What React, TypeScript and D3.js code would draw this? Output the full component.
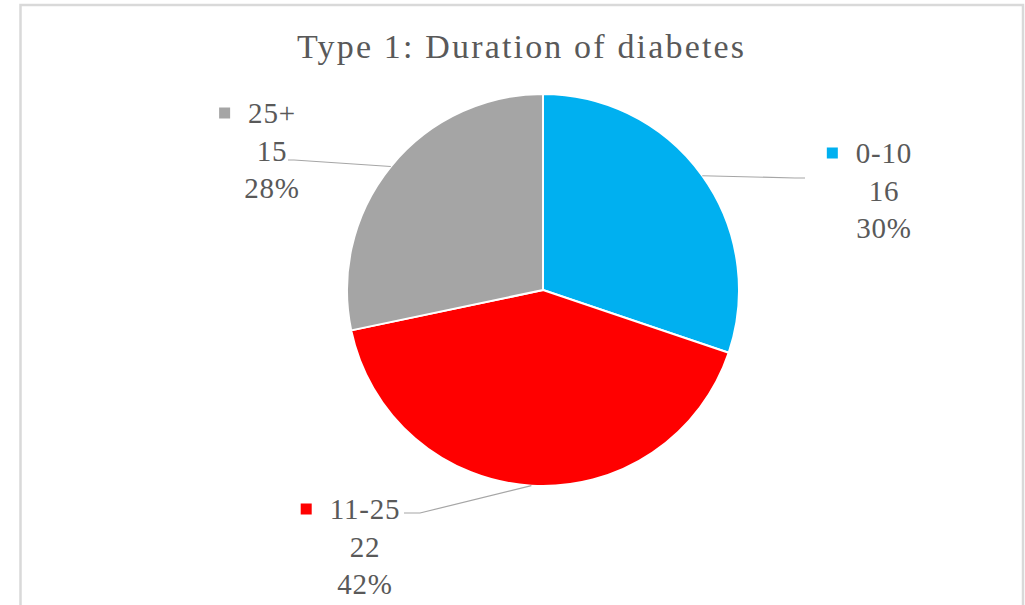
import { useEffect, useRef } from "react";
import * as d3 from "d3";

// Chart data
const categories = ["0-10", "11-25", "25+"];
const counts = [16, 22, 15];
const colors = ["#00B0F0", "#FF0000", "#A5A5A5"];

// Label layout: center x, first baseline, leader attach point (relative to center/baseline)
const labelLayout = [
  { cx: 884, y: 163, ax: -79, ay: 15, stub: -10 },
  { cx: 365, y: 519, ax: 39, ay: -6, stub: 16 },
  { cx: 272, y: 123, ax: 16, ay: 37, stub: 6 },
];

const W = 1025;
const H = 605;
const CX = 543;
const CY = 290;
const R = 196;
const FONT = "'Liberation Serif', 'Times New Roman', serif";
const TEXT = "#595959";
const LINE_H = 37.5;

export default function App() {
  const svgRef = useRef<SVGSVGElement>(null);

  useEffect(() => {
    const svg = d3.select(svgRef.current);
    svg.selectAll("*").remove();

    // Frame
    svg
      .append("rect")
      .attr("x", 20.5)
      .attr("y", 5)
      .attr("width", 1002.5)
      .attr("height", 640)
      .attr("fill", "#fff")
      .attr("stroke", "#D9D9D9")
      .attr("stroke-width", 2.5);

    // Title
    svg
      .append("text")
      .attr("x", 520.5)
      .attr("y", 58)
      .attr("text-anchor", "middle")
      .attr("fill", TEXT)
      .attr("font-family", FONT)
      .attr("font-size", 34)
      .attr("textLength", 447)
      .attr("lengthAdjust", "spacing")
      .text("Type 1: Duration of diabetes");

    const total = d3.sum(counts);
    const pie = d3
      .pie<number>()
      .sort(null)
      .value((d) => d);
    const arcs = pie(counts);
    const arc = d3.arc<d3.PieArcDatum<number>>().innerRadius(0).outerRadius(R);

    const g = svg.append("g").attr("transform", `translate(${CX},${CY})`);
    g.selectAll("path")
      .data(arcs)
      .enter()
      .append("path")
      .attr("d", arc)
      .attr("fill", (_, i) => colors[i])
      .attr("stroke", "#fff")
      .attr("stroke-width", 2)
      .attr("stroke-linejoin", "round");

    // Leader lines + labels
    arcs.forEach((a, i) => {
      const L = labelLayout[i];
      const mid = (a.startAngle + a.endAngle) / 2;
      const ex = CX + R * Math.sin(mid);
      const ey = CY - R * Math.cos(mid);
      const sx = L.cx + L.ax;
      const sy = L.y + L.ay;
      svg
        .append("polyline")
        .attr("points", `${sx},${sy} ${sx + L.stub},${sy} ${ex},${ey}`)
        .attr("fill", "none")
        .attr("stroke", "#A6A6A6")
        .attr("stroke-width", 1.2);

      const pct = Math.round((counts[i] / total) * 100);
      const lines = [categories[i], String(counts[i]), `${pct}%`];
      let firstLeft = L.cx;
      lines.forEach((t, j) => {
        const txt = svg
          .append("text")
          .attr("x", L.cx)
          .attr("y", L.y + j * LINE_H)
          .attr("text-anchor", "middle")
          .attr("fill", TEXT)
          .attr("font-family", FONT)
          .attr("font-size", 29)
          .attr("letter-spacing", 0.8)
          .text(t);
        if (j === 0) {
          const node = txt.node() as SVGTextElement;
          firstLeft = L.cx - node.getComputedTextLength() / 2;
        }
      });
      svg
        .append("rect")
        .attr("x", firstLeft - 18 - 11)
        .attr("y", L.y - 10 - 5.5)
        .attr("width", 11)
        .attr("height", 11)
        .attr("fill", colors[i]);
    });
  }, []);

  return (
    <div style={{ position: "fixed", left: 0, top: 0, width: W, height: H, background: "#fff" }}>
      <svg ref={svgRef} width={W} height={H} style={{ display: "block" }} />
    </div>
  );
}
